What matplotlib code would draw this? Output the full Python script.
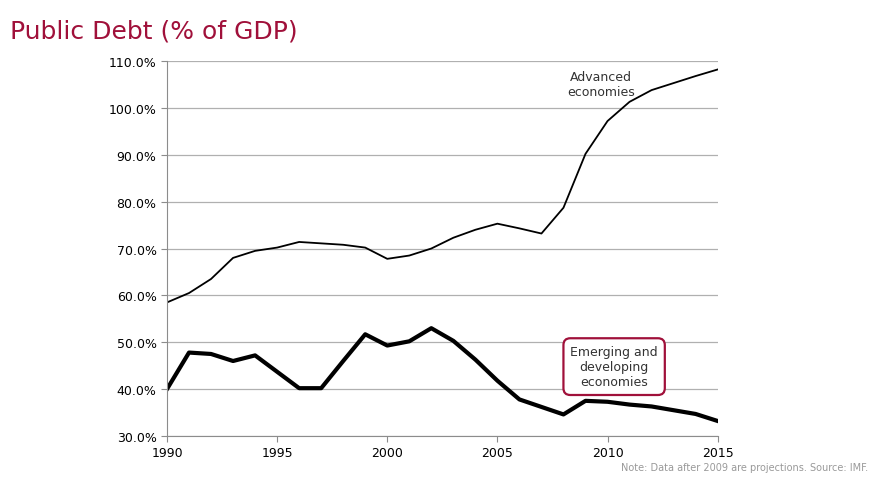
import matplotlib
matplotlib.use('Agg')
import matplotlib.pyplot as plt
from matplotlib.ticker import FuncFormatter

years = list(range(1990, 2016))
advanced = [58.5, 60.5, 63.5, 68.0, 69.5, 70.2, 71.4, 71.1, 70.8, 70.2, 67.8, 68.5, 70.0,
            72.3, 74.0, 75.3, 74.3, 73.2, 78.7, 90.2, 97.2, 101.3, 103.8, 105.3, 106.8, 108.2]
emerging = [40.0, 47.8, 47.5, 46.0, 47.2, 43.7, 40.2, 40.2, 46.0, 51.7, 49.3, 50.2, 53.0,
            50.3, 46.3, 41.8, 37.8, 36.2, 34.6, 37.5, 37.3, 36.7, 36.3, 35.5, 34.7, 33.2]

fig = plt.figure(figsize=(8.72, 4.81), dpi=100)
ax = fig.add_axes([0.1915, 0.0915, 0.6315, 0.7795])

ax.plot(years, advanced, color='black', lw=1.3)
ax.plot(years, emerging, color='black', lw=3)

ax.set_xlim(1990, 2015)
ax.set_ylim(30, 110)
ax.set_xticks(range(1990, 2016, 5))
ax.set_yticks(range(30, 111, 10))
ax.yaxis.set_major_formatter(FuncFormatter(lambda v, p: '%.1f%%' % v))
ax.grid(axis='y', color='#b0b0b0', lw=0.9)
ax.set_axisbelow(True)
for s in ['top', 'right']:
    ax.spines[s].set_visible(False)
for s in ['left', 'bottom']:
    ax.spines[s].set_color('#8c8c8c')
ax.tick_params(labelsize=9, color='#8c8c8c', direction='out', length=4)

ax.text(2009.7, 105.0, 'Advanced\neconomies', ha='center', va='center', fontsize=9, color='#333333')
ax.text(2010.3, 44.8, 'Emerging and\ndeveloping\neconomies', ha='center', va='center',
        fontsize=9, color='#333333',
        bbox=dict(boxstyle='round,pad=0.55', fc='white', ec='#a0103a', lw=1.6))

fig.text(0.011, 0.935, 'Public Debt (% of GDP)', fontsize=18, color='#a0103a', va='center')
fig.text(0.995, 0.02, 'Note: Data after 2009 are projections. Source: IMF.', fontsize=7,
         color='#999999', ha='right')

fig.savefig('out.png')
